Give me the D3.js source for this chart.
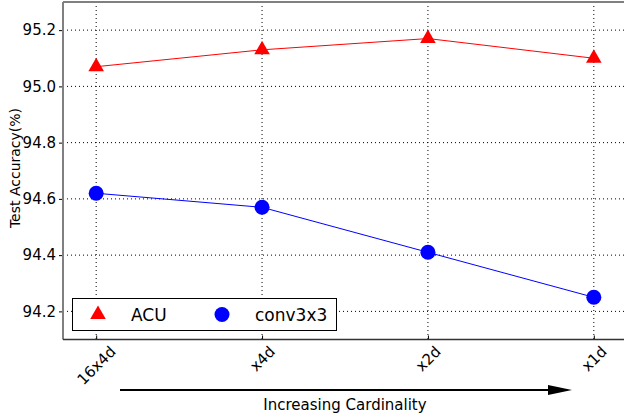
<!DOCTYPE html>
<html><head><meta charset="utf-8">
<script src="https://cdn.jsdelivr.net/npm/d3@7"></script>
<style>body{margin:0;background:#fff}svg{display:block;font-family:"DejaVu Sans",sans-serif}</style>
</head><body><svg id="c" width="624" height="417"></svg>
<script>
const categories = ["16x4d","x4d","x2d","x1d"];
const acu = [95.07, 95.13, 95.17, 95.10];
const conv = [94.62, 94.57, 94.41, 94.25];
const yTicks = [94.2, 94.4, 94.6, 94.8, 95.0, 95.2];
const seriesNames = ["ACU","conv3x3"];

const svg = d3.select("#c");
const L=63, R=627, T=2, B=339.5;
const x = d3.scaleLinear().domain([-0.2, 3.2]).range([L, R]);
const y = d3.scaleLinear().domain([94.1, 95.3]).range([B, T]);

// grid
const g = svg.append("g");
g.selectAll(".hg").data(yTicks).join("line")
 .attr("x1",L).attr("x2",R).attr("y1",d=>y(d)).attr("y2",d=>y(d))
 .attr("stroke","#000").attr("stroke-width",1).attr("stroke-dasharray","1,3");
g.selectAll(".vg").data(categories).join("line")
 .attr("x1",(d,i)=>x(i)).attr("x2",(d,i)=>x(i)).attr("y1",T).attr("y2",B)
 .attr("stroke","#000").attr("stroke-width",1).attr("stroke-dasharray","1,3");

// axes
const yAxis = d3.axisLeft(y).tickValues(yTicks).tickFormat(d3.format(".1f")).tickSize(4).tickPadding(3).tickSizeOuter(0);
const ya = svg.append("g").attr("transform",`translate(${L},0)`).call(yAxis)
  .attr("font-family","DejaVu Sans").attr("font-size",15);
ya.select(".domain").remove();
ya.selectAll("text").attr("fill","#000");
const xAxis = d3.axisBottom(x).tickValues(d3.range(categories.length)).tickFormat(i=>categories[i]).tickSize(4).tickSizeOuter(0);
const xa = svg.append("g").attr("transform",`translate(0,${B})`).call(xAxis)
  .attr("font-family","DejaVu Sans").attr("font-size",15);
xa.select(".domain").remove();
xa.selectAll(".tick line").attr("y1",-4).attr("y2",0);
xa.selectAll("text").attr("fill","#000").attr("text-anchor","middle").attr("dy",null).attr("y",null)
  .attr("dominant-baseline","central")
  .each(function(){
    const w = this.getComputedTextLength();
    const side = (w + 10) * Math.SQRT1_2;
    d3.select(this).attr("transform",`translate(0,${6 + side/2}) rotate(-45)`);
  });

// spines
svg.append("line").attr("x1",L).attr("x2",R).attr("y1",T).attr("y2",T).attr("stroke","#808080").attr("stroke-width",2);
svg.append("line").attr("x1",L).attr("x2",L).attr("y1",T).attr("y2",B).attr("stroke","#808080").attr("stroke-width",2);
svg.append("line").attr("x1",L).attr("x2",R).attr("y1",B).attr("y2",B).attr("stroke","#333").attr("stroke-width",1.5);

// lines
const line = d3.line().x((d,i)=>x(i)).y(d=>y(d));
svg.append("path").datum(acu).attr("d",line).attr("fill","none").attr("stroke","#ff0000").attr("stroke-width",1);
svg.append("path").datum(conv).attr("d",line).attr("fill","none").attr("stroke","#0000ff").attr("stroke-width",1);
const tri = d3.symbol().type(d3.symbolTriangle).size(105);
svg.selectAll(".acu").data(acu).join("path").attr("d",tri)
 .attr("transform",(d,i)=>`translate(${x(i)},${y(d)})`).attr("fill","#ff0000");
svg.selectAll(".conv").data(conv).join("circle").attr("cx",(d,i)=>x(i)).attr("cy",d=>y(d)).attr("r",7.5).attr("fill","#0000ff");

// legend
svg.append("rect").attr("x",72.5).attr("y",298.5).attr("width",264).attr("height",32).attr("fill","#fff").attr("stroke","#000").attr("stroke-width",1);
svg.append("path").attr("d",tri).attr("transform","translate(98,314.5)").attr("fill","#ff0000");
svg.append("circle").attr("cx",222).attr("cy",314.5).attr("r",7.5).attr("fill","#0000ff");
svg.append("text").attr("x",131).attr("y",321).attr("font-size",17).text(seriesNames[0]);
svg.append("text").attr("x",255).attr("y",321).attr("font-size",17).text(seriesNames[1]);

// y label
svg.append("text").attr("transform","translate(15,168) rotate(-90)").attr("text-anchor","middle")
  .attr("dominant-baseline","central").attr("font-size",14).text("Test Accuracy(%)");

// arrow
svg.append("line").attr("x1",120).attr("x2",552).attr("y1",390).attr("y2",390).attr("stroke","#000").attr("stroke-width",2.2);
svg.append("path").attr("d","M548,385 L572,390 L548,395 Z").attr("fill","#000");
svg.append("text").attr("x",345).attr("y",410).attr("text-anchor","middle").attr("font-size",15).text("Increasing Cardinality");
</script></body></html>
